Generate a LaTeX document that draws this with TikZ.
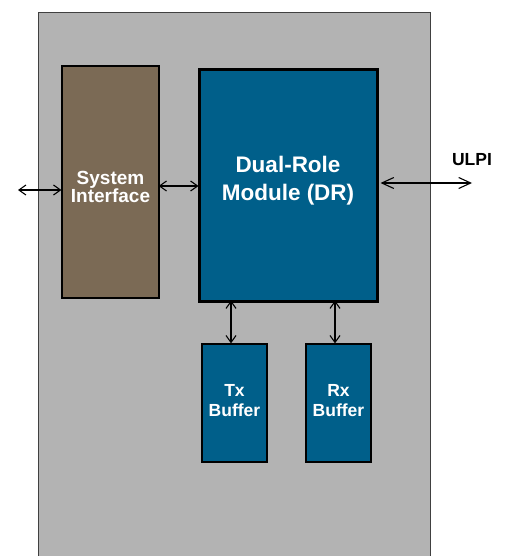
\documentclass[tikz,border=0pt]{standalone}
\usepackage{fontspec}
\setmainfont{Liberation Sans}
\usetikzlibrary{arrows.meta}
\definecolor{panelgray}{HTML}{B3B3B3}
\definecolor{sibrown}{HTML}{7B6A55}
\definecolor{drblue}{HTML}{005F8A}
\tikzset{
  blk/.style={draw=black, line width=1.2pt, inner sep=0pt},
  lbl/.style={text=white, align=center, inner sep=0pt},
  dbl/.style={line width=1.1pt, {Straight Barb[length=7pt,width=10pt]}-{Straight Barb[length=7pt,width=10pt]}},
  dblbig/.style={line width=1.1pt, {Straight Barb[length=12pt,width=11pt]}-{Straight Barb[length=12pt,width=11pt]}},
}
\begin{document}
\begin{tikzpicture}[x=1pt,y=-1pt]
\useasboundingbox (0,0) rectangle (506,556);
\fill[white] (0,0) rectangle (506,556);
\fill[panelgray] (38,12) rectangle (430,556);
\draw[draw=black!75, line width=0.8pt] (38,556) -- (38,12) -- (430,12) -- (430,556);
% blocks
\node[blk, fill=sibrown, minimum width=97pt, minimum height=232pt] (si) at (110.5,182) {};
\node[lbl, font=\bfseries\fontsize{19}{16}\selectfont] (silbl) at (110.5,187) {System\\Interface};
\node[blk, fill=drblue, line width=3pt, minimum width=178pt, minimum height=231pt] (dr) at (288,185.5) {};
\node[lbl, font=\bfseries\fontsize{22.5}{28}\selectfont] (drlbl) at (288,181) {Dual-Role\\Module (DR)};
\node[blk, fill=drblue, minimum width=65pt, minimum height=118pt] (tx) at (234.5,403) {};
\node[lbl, font=\bfseries\fontsize{17.5}{20}\selectfont] (txlbl) at (234.5,401) {Tx\\Buffer};
\node[blk, fill=drblue, minimum width=65pt, minimum height=118pt] (rx) at (338.5,403) {};
\node[lbl, font=\bfseries\fontsize{17.5}{20}\selectfont] (rxlbl) at (338.5,401) {Rx\\Buffer};
\coordinate (ext) at (18,190);
\coordinate (ulpiend) at (472,183);
\node[font=\bfseries\fontsize{17.5}{20}\selectfont, anchor=base] (ulpi) at (472,165) {ULPI};
% connectors
\draw[dbl] (ext) -- (si.west |- ext);
\draw[dbl] ([xshift=-1pt]si.east |- 0,186) -- ([xshift=1pt]dr.west |- 0,186);
\draw[dblbig] ([xshift=2pt]dr.east |- ulpiend) -- (ulpiend);
\draw[dbl] ([yshift=2pt]dr.south -| tx.north) ++(-3.5,0) coordinate (a1) -- (a1 |- tx.north);
\draw[dbl] ([yshift=2pt]dr.south -| rx.north) ++(-3.5,0) coordinate (a2) -- (a2 |- rx.north);
\end{tikzpicture}
\end{document}
